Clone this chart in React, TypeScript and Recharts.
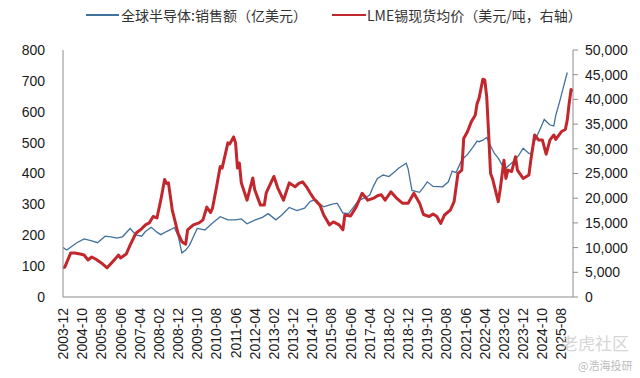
import { LineChart, Line, XAxis, YAxis } from 'recharts';

// month index 0 = 2003-12
const xTickIndex = [0, 10, 20, 30, 40, 50, 60, 70, 80, 90, 100, 110, 120, 130, 140, 150, 160, 170, 180, 190, 200, 210, 220, 230, 240, 250, 260];
const xTickLabels = [
  '2003-12', '2004-10', '2005-08', '2006-06', '2007-04', '2008-02', '2008-12', '2009-10', '2010-08',
  '2011-06', '2012-04', '2013-02', '2013-12', '2014-10', '2015-08', '2016-06', '2017-04', '2018-02',
  '2018-12', '2019-10', '2020-08', '2021-06', '2022-04', '2023-02', '2023-12', '2024-10', '2025-08',
];

const leftTicks = [0, 100, 200, 300, 400, 500, 600, 700, 800];
const rightTicks = [0, 5000, 10000, 15000, 20000, 25000, 30000, 35000, 40000, 45000, 50000];

// 全球半导体销售额（亿美元）
const semiMonth = [
  0, 2, 7, 11, 15, 18, 22, 25, 28, 31, 35, 38, 41, 43, 46, 49, 51, 54, 56, 58, 60, 62, 64, 66, 70, 72, 74,
  78, 82, 86, 90, 93, 96, 100, 104, 107, 111, 114, 118, 122, 126, 129, 132, 134, 136, 140, 143, 146, 149,
  152, 154, 157, 160, 162, 164, 167, 170, 173, 175, 177, 179, 180, 182, 186, 188, 190, 193, 198, 201, 203,
  205, 208, 211, 214, 216, 217, 219, 221, 223, 225, 227, 229, 230, 233, 236, 238, 240, 243, 244, 246, 249,
  251, 254, 256, 257, 259, 261, 263,
];
const semiSales = [
  160, 152, 175, 188, 182, 176, 197, 195, 191, 195, 222, 201, 197, 212, 226, 210, 202, 212, 218, 225, 200,
  143, 152, 168, 222, 220, 217, 240, 260, 250, 250, 253, 237, 249, 258, 270, 250, 265, 290, 280, 288, 310,
  316, 300, 292, 300, 304, 272, 270, 295, 312, 320, 330, 360, 384, 395, 390, 406, 417, 425, 433, 415, 345,
  339, 355, 373, 358, 357, 373, 408, 403, 444, 462, 487, 505, 503, 508, 517, 490, 465, 450, 428, 412, 428,
  445, 462, 482, 465, 463, 505, 546, 575, 557, 554, 588, 632, 680, 727,
];

// LME锡现货均价（美元/吨）
const tinMonth = [
  0, 1, 4, 6, 9, 11, 13, 15, 17, 20, 23, 26, 29, 30, 33, 35, 38, 41, 43, 45, 47, 49, 51, 53, 54, 55, 57,
  60, 62, 64, 65, 68, 71, 73, 75, 77, 78, 80, 82, 83, 86, 87, 89, 90, 91, 92, 93, 96, 99, 100, 103, 105,
  106, 110, 112, 115, 118, 121, 123, 125, 127, 129, 131, 134, 136, 139, 141, 144, 146, 147, 150, 153, 156,
  159, 162, 164, 166, 168, 171, 174, 177, 180, 183, 186, 188, 191, 193, 195, 197, 199, 202, 204, 206, 208,
  209, 211, 213, 215, 216, 217, 219, 220, 221, 222, 223, 224, 227, 228, 230, 231, 232, 234, 236, 237, 240,
  243, 244, 246, 248, 250, 252, 254, 256, 257, 260, 262, 263, 264, 265, 266,
];
const tinPrice = [
  5900, 6100, 8900, 8900, 8700, 8500, 7500, 8100, 7700, 6900, 5900, 7200, 8500, 7900, 8700, 10500, 12900,
  13800, 14600, 15000, 16300, 16000, 19600, 23800, 23000, 23100, 17600, 12900, 11200, 10700, 13600, 14600,
  15000, 15600, 18200, 17100, 18000, 22100, 26400, 26100, 31200, 31000, 32400, 31200, 26100, 27100, 23100,
  19600, 24100, 21700, 18600, 18600, 21100, 24400, 22100, 19600, 23100, 22300, 23000, 23300, 22300, 21000,
  19800, 18600, 16600, 14600, 15200, 14600, 13600, 16600, 16400, 18300, 21000, 19600, 20000, 20500, 20700,
  19600, 21300, 20000, 19000, 19000, 21000, 19000, 16700, 16300, 16800, 16300, 14900, 16600, 17600, 19300,
  25000, 25700, 32100, 33500, 35500, 36800, 39200, 40200, 44100, 43900, 40500, 33100, 25000, 24000, 19300,
  21700, 27700, 24000, 25700, 25400, 28400, 25700, 24000, 24700, 27700, 32800, 31800, 31800, 28900, 31800,
  32800, 31900, 33500, 33900, 35800, 39200, 42000, 41600,
];

const semiData = semiMonth.map((t, i) => ({ t, v: semiSales[i] }));
const tinData = tinMonth.map((t, i) => ({ t, v: tinPrice[i] }));

const BLUE = '#41729f';
const RED = '#c1272d';
const AXIS = '#8c8c8c';
const FONT = '"Liberation Sans", Arial, sans-serif';
const CJK = '"Noto Sans CJK SC", sans-serif';

const tickStyle = { fontSize: 14, fill: '#1a1a1a', fontFamily: FONT };

function MonthTick({ x, y, payload }: any) {
  const i = xTickIndex.indexOf(payload.value);
  return (
    <text
      transform={`translate(${x},${y + 11}) rotate(-90)`}
      textAnchor="end"
      dominantBaseline="central"
      fontSize={14}
      fontFamily={FONT}
      fill="#1a1a1a"
    >
      {i >= 0 ? xTickLabels[i] : ''}
    </text>
  );
}

export default function App() {
  return (
    <div style={{ position: 'absolute', left: 0, top: 0, width: 640, height: 378, background: '#fff', overflow: 'hidden' }}>
      <div style={{ position: 'absolute', left: 86, top: 14, width: 33, height: 1.5, background: BLUE }} />
      <div style={{ position: 'absolute', left: 121, top: 5, fontSize: 14, lineHeight: '20px', fontFamily: CJK, color: '#333', whiteSpace: 'nowrap' }}>
        全球半导体:销售额（亿美元）
      </div>
      <div style={{ position: 'absolute', left: 332, top: 13.5, width: 34, height: 2.5, background: RED }} />
      <div style={{ position: 'absolute', left: 367, top: 5, fontSize: 14, lineHeight: '20px', fontFamily: CJK, color: '#333', whiteSpace: 'nowrap' }}>
        LME锡现货均价（美元/吨，右轴）
      </div>

      <LineChart width={640} height={378} margin={{ top: 50, right: 0, bottom: 0, left: 0 }}>
        <XAxis
          dataKey="t"
          type="number"
          domain={[0, 266]}
          ticks={xTickIndex}
          interval={0}
          height={81}
          tickLine={false}
          tickSize={0}
          tickMargin={0}
          axisLine={{ stroke: AXIS }}
          tick={<MonthTick />}
          allowDataOverflow
        />
        <YAxis
          yAxisId="left"
          domain={[0, 800]}
          ticks={leftTicks}
          width={63}
          tickLine={false}
          tickSize={0}
          tickMargin={18}
          axisLine={{ stroke: AXIS }}
          tick={tickStyle}
        />
        <YAxis
          yAxisId="right"
          orientation="right"
          domain={[0, 50000]}
          ticks={rightTicks}
          width={67}
          tickSize={5}
          tickMargin={7}
          tickLine={{ stroke: AXIS }}
          axisLine={{ stroke: AXIS }}
          tick={tickStyle}
          tickFormatter={(v: number) => v.toLocaleString('en-US')}
        />
        <Line
          yAxisId="left"
          data={semiData}
          dataKey="v"
          type="linear"
          stroke={BLUE}
          strokeWidth={1.3}
          dot={false}
          isAnimationActive={false}
        />
        <Line
          yAxisId="right"
          data={tinData}
          dataKey="v"
          type="linear"
          stroke={RED}
          strokeWidth={3}
          dot={false}
          strokeLinejoin="round"
          isAnimationActive={false}
        />
      </LineChart>

      <div style={{ position: 'absolute', left: 561, top: 330, fontSize: 17, fontFamily: CJK, color: '#d6d6d6', whiteSpace: 'nowrap' }}>
        老虎社区
      </div>
      <div style={{ position: 'absolute', left: 578, top: 357, fontSize: 11, fontFamily: CJK, color: '#bdbdbd', whiteSpace: 'nowrap' }}>
        @浩海投研
      </div>
    </div>
  );
}
